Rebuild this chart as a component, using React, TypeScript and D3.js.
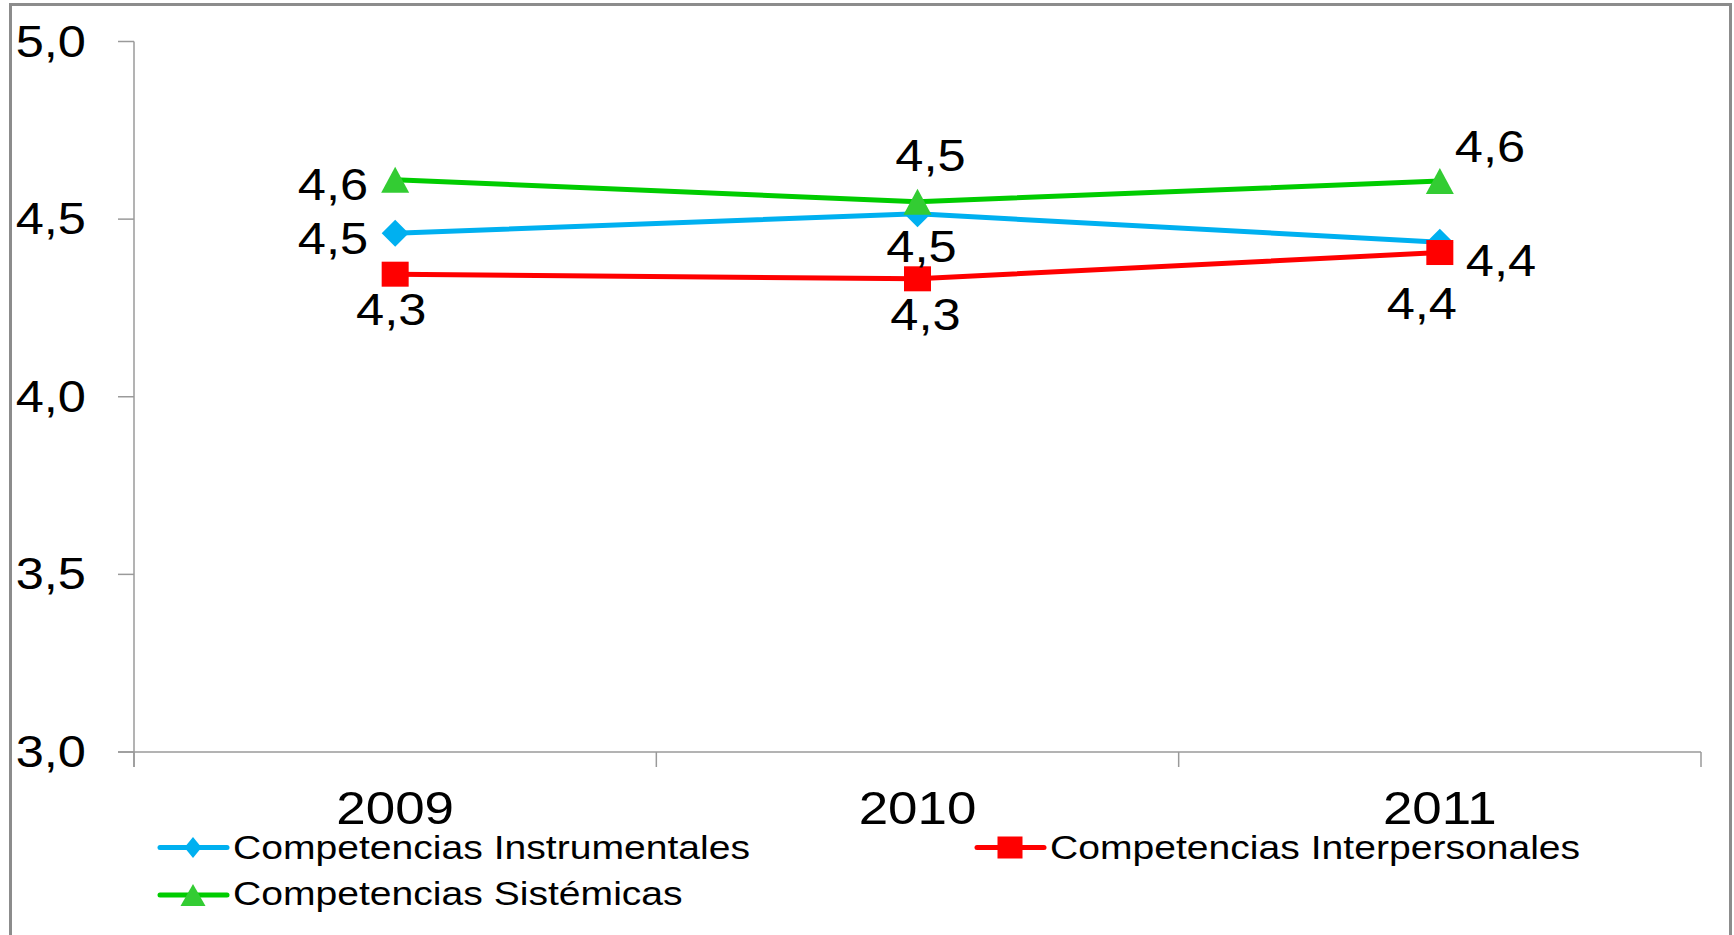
import React from "react";
import * as d3 from "d3";

const categories = ["2009", "2010", "2011"];
const instrumentales = [4.46, 4.515, 4.435];
const interpersonales = [4.345, 4.332, 4.406];
const sistemicas = [4.611, 4.549, 4.607];
const yTicks = [3.0, 3.5, 4.0, 4.5, 5.0];

const seriesNames = [
  "Competencias Instrumentales",
  "Competencias Interpersonales",
  "Competencias Sistémicas",
];

// label placement (anchor, dx, dy) relative to each point
const instLabelPos: [string, number, number][] = [["end", -27, 21], ["middle", 4, 48], ["start", 26, 34]];
const interLabelPos: [string, number, number][] = [["middle", -4, 51], ["middle", 8, 51], ["middle", -18, 66]];
const sistLabelPos: [string, number, number][] = [["end", -27, 20], ["middle", 13, -31], ["start", 15, -19]];

const W = 1734;
const H = 935;
const SX = 1.15;
const FONT = "'Liberation Sans', Arial, sans-serif";

const fmt = (v: number) => d3.format(".1f")(v).replace(".", ",");

function Marker({ type, x, y, color, w, h }: { type: string; x: number; y: number; color: string; w: number; h: number }) {
  if (type === "diamond") {
    const p = `M${x},${y - h / 2}L${x + w / 2},${y}L${x},${y + h / 2}L${x - w / 2},${y}Z`;
    return <path d={p} fill={color} />;
  }
  if (type === "square") {
    return <rect x={x - w / 2} y={y - h / 2} width={w} height={h} fill={color} />;
  }
  const p = `M${x},${y - h / 2}L${x + w / 2},${y + h / 2}L${x - w / 2},${y + h / 2}Z`;
  return <path d={p} fill={color} />;
}

export default function App() {
  const x = d3.scaleBand<string>().domain(categories).range([134, 1701]).padding(0);
  const y = d3.scaleLinear().domain([3, 5]).range([752, 41.5]);
  const cx = (c: string) => (x(c) as number) + x.bandwidth() / 2;

  const series = [
    { name: seriesNames[0], values: instrumentales, color: "#00B0F0", mcolor: "#00B0F0", marker: "diamond", mw: 27, mh: 27, lpos: instLabelPos, lw: 17, lh: 21 },
    { name: seriesNames[1], values: interpersonales, color: "#FF0000", mcolor: "#FF0000", marker: "square", mw: 27, mh: 25, lpos: interLabelPos, lw: 25, lh: 22 },
    { name: seriesNames[2], values: sistemicas, color: "#00CC00", mcolor: "#33CC33", marker: "triangle", mw: 28, mh: 26, lpos: sistLabelPos, lw: 25, lh: 22 },
  ];

  const line = d3
    .line<number>()
    .x((_, i) => cx(categories[i]))
    .y((v) => y(v));

  const boundaries = [...categories.map((c) => x(c) as number), 1701];

  const legendItems = [
    { s: series[0], lx: 160, ly: 847.5, tx: 233, ty: 859 },
    { s: series[1], lx: 977, ly: 847.5, tx: 1050, ty: 859 },
    { s: series[2], lx: 160, ly: 895, tx: 233, ty: 905 },
  ];

  return (
    <svg
      width={W}
      height={H}
      style={{ position: "absolute", left: 0, top: 0, background: "#fff" }}
      fontFamily={FONT}
    >
      <rect x={0} y={0} width={W} height={H} fill="#fff" />
      {/* outer frame */}
      <path d={`M10.5,${H + 5}V4.5H1730.5V${H + 5}`} fill="none" stroke="#8c8c8c" strokeWidth={3} />

      {/* y axis */}
      <line x1={134} y1={y(5)} x2={134} y2={767} stroke="#9a9a9a" strokeWidth={1.5} />
      {yTicks.map((t) => (
        <g key={t}>
          <line x1={118} x2={134} y1={y(t)} y2={y(t)} stroke="#9a9a9a" strokeWidth={1.5} />
          <text
            transform={`translate(86,${y(t) + 15}) scale(${SX},1)`}
            textAnchor="end"
            fontSize={44}
            fill="#000"
          >
            {fmt(t)}
          </text>
        </g>
      ))}

      {/* x axis */}
      <line x1={118} x2={1701} y1={y(3)} y2={y(3)} stroke="#9a9a9a" strokeWidth={1.5} />
      {boundaries.map((b, i) => (
        <line key={i} x1={b} x2={b} y1={y(3)} y2={767} stroke="#9a9a9a" strokeWidth={1.5} />
      ))}
      {categories.map((c) => (
        <text
          key={c}
          transform={`translate(${cx(c)},824) scale(${SX},1)`}
          textAnchor="middle"
          fontSize={46}
          fill="#000"
        >
          {c}
        </text>
      ))}

      {/* lines */}
      {series.map((s) => (
        <path key={s.name} d={line(s.values) as string} fill="none" stroke={s.color} strokeWidth={5} strokeLinejoin="round" />
      ))}
      {/* markers */}
      {series.map((s) =>
        s.values.map((v, i) => (
          <Marker key={s.name + i} type={s.marker} x={cx(categories[i])} y={y(v)} color={s.mcolor} w={s.mw} h={s.mh} />
        ))
      )}
      {/* data labels */}
      {series.map((s) =>
        s.values.map((v, i) => {
          const [anchor, dx, dy] = s.lpos[i];
          return (
            <text
              key={"l" + s.name + i}
              transform={`translate(${cx(categories[i]) + dx},${y(v) + dy}) scale(${SX},1)`}
              textAnchor={anchor as any}
              fontSize={44}
              fill="#000"
            >
              {fmt(v)}
            </text>
          );
        })
      )}

      {/* legend */}
      {legendItems.map(({ s, lx, ly, tx, ty }) => (
        <g key={"lg" + s.name}>
          <line x1={lx} x2={lx + 67} y1={ly} y2={ly} stroke={s.color} strokeWidth={5} strokeLinecap="round" />
          <Marker type={s.marker} x={lx + 33} y={ly} color={s.mcolor} w={s.lw} h={s.lh} />
          <text transform={`translate(${tx},${ty}) scale(${SX},1)`} fontSize={34} fill="#000">
            {s.name}
          </text>
        </g>
      ))}
    </svg>
  );
}
